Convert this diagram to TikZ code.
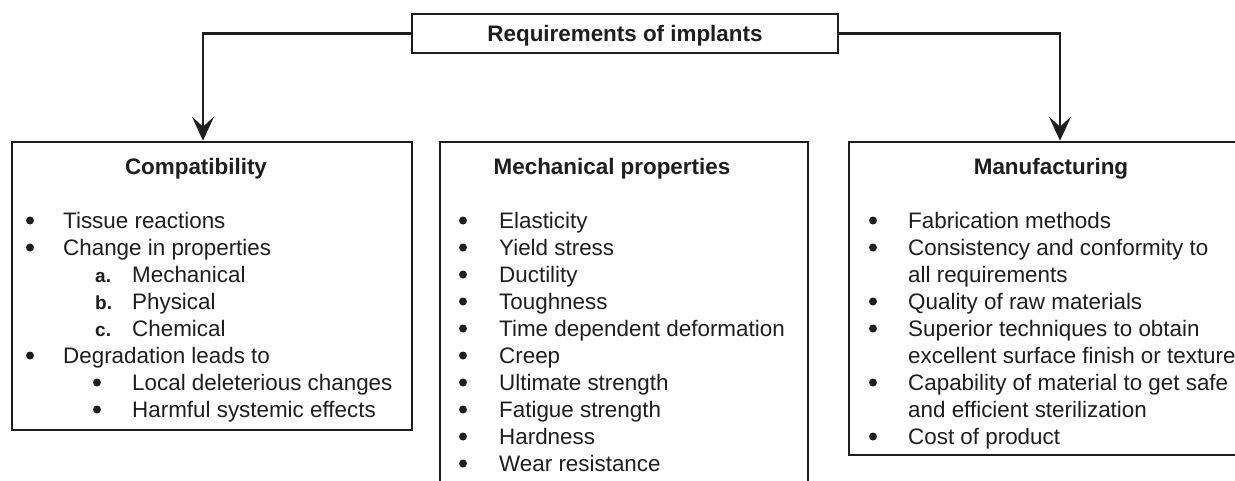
\documentclass[tikz,border=0pt]{standalone}
\usepackage{fontspec}
\setmainfont{Liberation Sans}
\usetikzlibrary{arrows.meta}
\definecolor{ink}{RGB}{30,30,30}
\begin{document}
\begin{tikzpicture}[x=1pt,y=-1pt,
  box/.style={draw=ink, line width=2.6pt, rectangle, inner sep=0pt},
  txt/.style={anchor=base west, inner sep=0pt, text=ink, font=\fontsize{22.4}{27}\selectfont},
  lbl/.style={anchor=base west, inner sep=0pt, text=ink, font=\fontsize{19}{27}\selectfont\bfseries},
  bul/.style={circle, fill=ink, inner sep=0pt, minimum size=8pt, yshift=7.5pt},
  ttl/.style={anchor=base, inner sep=0pt, text=ink, font=\fontsize{22.4}{27}\selectfont\bfseries},
  conn/.style={draw=ink, line width=2.4pt, -{Stealth[length=24pt,width=22pt,inset=10pt]}}]
\clip (0,0) rectangle (1235,480);
\fill[white] (0,0) rectangle (1235,480);
% boxes
\node[box, minimum width=426pt, minimum height=39pt] (top) at (625,33.5) {};
\node[ttl] (toptxt) at (625,41) {Requirements of implants};
\node[box, minimum width=400pt, minimum height=288pt] (comp) at (212,286) {};
\node[box, minimum width=368pt, minimum height=400pt] (mech) at (624,342) {};
\node[box, minimum width=451pt, minimum height=313pt] (manu) at (1074.5,298.5) {};
% connectors
\draw[conn] (top.west) -| ([xshift=-9pt]comp.north);
\draw[conn] (top.east) -| ([xshift=-14.5pt]manu.north);
% Compatibility
\node[ttl] (ct) at (196,174) {Compatibility};
\node[bul] (cb1) at (30,228) {};
\node[txt] (c1) at (63,228) {Tissue reactions};
\node[bul] (cb2) at (30,255) {};
\node[txt] (c2) at (63,255) {Change in properties};
\node[lbl] (ca) at (95,282) {a.};
\node[txt] (c3) at (132,282) {Mechanical};
\node[lbl] (cbb) at (95,309) {b.};
\node[txt] (c4) at (132,309) {Physical};
\node[lbl] (cc) at (95,336) {c.};
\node[txt] (c5) at (132,336) {Chemical};
\node[bul] (cb6) at (30,363) {};
\node[txt] (c6) at (63,363) {Degradation leads to};
\node[bul] (cb7) at (97,390) {};
\node[txt] (c7) at (132,390) {Local deleterious changes};
\node[bul] (cb8) at (97,417) {};
\node[txt] (c8) at (132,417) {Harmful systemic effects};
% Mechanical properties
\node[ttl] (mt) at (612,174) {Mechanical properties};
\foreach \t [count=\i from 0] in {Elasticity,Yield stress,Ductility,Toughness,Time dependent deformation,Creep,Ultimate strength,Fatigue strength,Hardness,Wear resistance}{
  \node[bul] (mb\i) at (463,228+27*\i) {};
  \node[txt] (m\i) at (499,228+27*\i) {\t};
}
% Manufacturing
\node[ttl] (ft) at (1051,174) {Manufacturing};
\node[bul] (fb1) at (873,228) {};
\node[txt] (f1) at (908,228) {Fabrication methods};
\node[bul] (fb2) at (873,255) {};
\node[txt] (f2) at (908,255) {Consistency and conformity to};
\node[txt] (f3) at (908,282) {all requirements};
\node[bul] (fb4) at (873,309) {};
\node[txt] (f4) at (908,309) {Quality of raw materials};
\node[bul] (fb5) at (873,336) {};
\node[txt] (f5) at (908,336) {Superior techniques to obtain};
\node[txt] (f6) at (908,363) {excellent surface finish or texture};
\node[bul] (fb7) at (873,390) {};
\node[txt] (f7) at (908,390) {Capability of material to get safe};
\node[txt] (f8) at (908,417) {and efficient sterilization};
\node[bul] (fb9) at (873,444) {};
\node[txt] (f9) at (908,444) {Cost of product};
\end{tikzpicture}
\end{document}
